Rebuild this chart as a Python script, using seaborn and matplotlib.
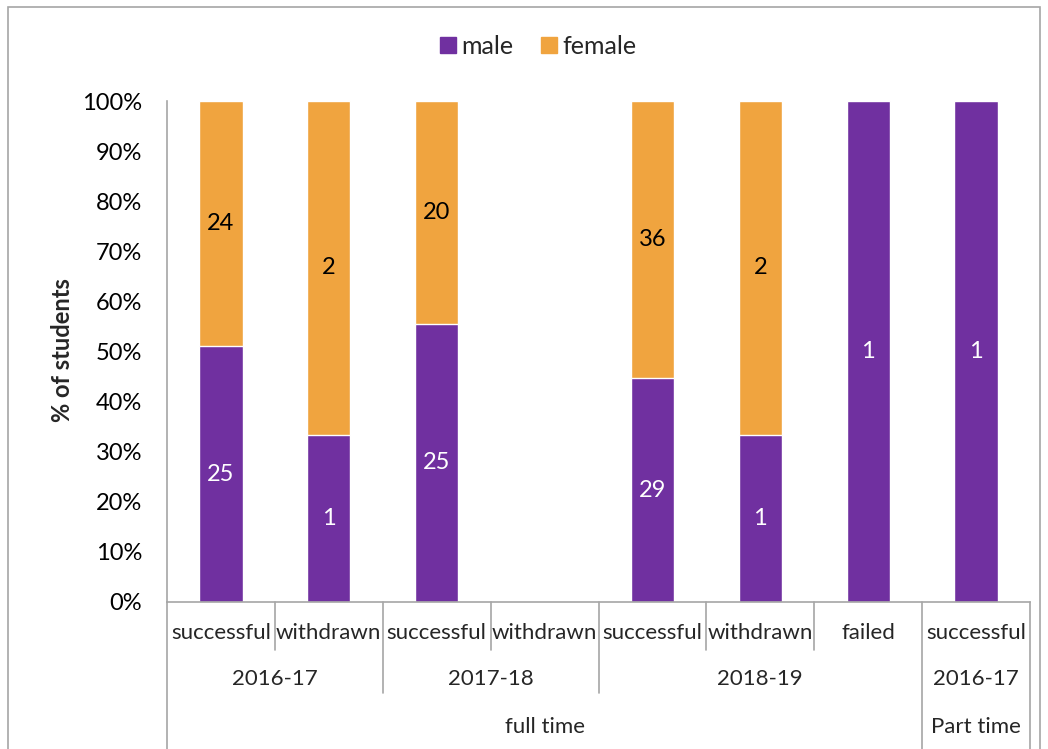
import numpy as np
import pandas as pd
import matplotlib
matplotlib.use("Agg")
import matplotlib.pyplot as plt
import seaborn as sns
from matplotlib.patches import Rectangle
from matplotlib.lines import Line2D
import matplotlib.transforms as mtransforms

# ---- data ----
outcomes = ["successful", "withdrawn", "successful", "withdrawn",
            "successful", "withdrawn", "failed", "successful"]
years = ["2016-17", "2017-18", "2018-19", "2016-17"]
year_spans = [(0, 1), (2, 3), (4, 6), (7, 7)]
modes = ["full time", "Part time"]
mode_spans = [(0, 6), (7, 7)]
male = [25, 1, 25, 0, 29, 1, 1, 1]
female = [24, 2, 20, 0, 36, 2, 0, 0]

slots = [f"s{i}" for i in range(len(outcomes))]
total = np.array(male) + np.array(female)
male_pct = np.where(total > 0, np.array(male) / np.where(total > 0, total, 1) * 100, 0)
total_pct = np.where(total > 0, 100.0, 0.0)
df = pd.DataFrame({"slot": slots, "male_pct": male_pct, "total_pct": total_pct})

PURPLE = "#7030A0"
ORANGE = "#F0A43F"
GRID = "#A6A6A6"

sns.set_theme(style="white")
plt.rcParams["font.family"] = ["Lato", "DejaVu Sans"]
FS_TICK = 17
FS_CAT = 16
FS_DATA = 17

fig = plt.figure(figsize=(10.48, 7.49), dpi=100)
W, H = 1048, 749
L, R, T, B = 167, 1030, 101, 602
ax = fig.add_axes([L / W, 1 - B / H, (R - L) / W, (B - T) / H])

sns.barplot(data=df, x="slot", y="total_pct", order=slots, color=ORANGE,
            width=0.4, saturation=1, errorbar=None, ax=ax)
sns.barplot(data=df, x="slot", y="male_pct", order=slots, color=PURPLE,
            width=0.4, saturation=1, errorbar=None, ax=ax)

ax.set_xlim(-0.5, len(slots) - 0.5)
ax.set_ylim(0, 100)
ax.set_yticks(np.arange(0, 101, 10))
ax.set_yticklabels([f"{v}%" for v in range(0, 101, 10)], fontsize=FS_TICK, color="#000000")
ax.tick_params(axis="y", length=0, pad=18)
ax.set_xticks([])
ax.set_xlabel("")
ax.set_ylabel("")
for s in ["top", "right"]:
    ax.spines[s].set_visible(False)
for s in ["left", "bottom"]:
    ax.spines[s].set_color(GRID)
    ax.spines[s].set_linewidth(1.2)

# data labels
for i in range(len(slots)):
    if total[i] == 0:
        continue
    mp = male_pct[i]
    if male[i] > 0:
        ax.text(i, mp / 2, str(male[i]), ha="center", va="center",
                color="white", fontsize=FS_DATA)
    if female[i] > 0:
        ax.text(i, mp + (100 - mp) / 2, str(female[i]), ha="center", va="center",
                color="black", fontsize=FS_DATA)

# multi-level category axis
trans = mtransforms.blended_transform_factory(ax.transData, ax.transAxes)
ph = B - T
y1 = -(650 - B) / ph
y2 = -(693 - B) / ph
y3 = -(749 - B) / ph
yl1 = -(633 - B) / ph
yl2 = -(679 - B) / ph
yl3 = -(727 - B) / ph

def vline(x, ybot):
    ax.add_line(Line2D([x, x], [0, ybot], transform=trans, color=GRID,
                       lw=1.2, clip_on=False))

mode_bounds = set()
for a, b in mode_spans:
    mode_bounds.add(a - 0.5)
    mode_bounds.add(b + 0.5)
year_bounds = set()
for a, b in year_spans:
    year_bounds.add(a - 0.5)
    year_bounds.add(b + 0.5)
for k in range(len(slots) + 1):
    x = k - 0.5
    if x in mode_bounds:
        vline(x, y3 - 0.02)
    elif x in year_bounds:
        vline(x, y2)
    else:
        vline(x, y1)

for i, lab in enumerate(outcomes):
    ax.text(i, yl1, lab, transform=trans, ha="center", va="center", fontsize=FS_CAT)
for (a, b), lab in zip(year_spans, years):
    ax.text((a + b) / 2, yl2, lab, transform=trans, ha="center", va="center", fontsize=FS_CAT)
for (a, b), lab in zip(mode_spans, modes):
    ax.text((a + b) / 2, yl3, lab, transform=trans, ha="center", va="center", fontsize=FS_CAT)

# y label
fig.text(62 / W, 1 - 350 / H, "% of students", rotation=90, ha="center",
         va="center", fontsize=17, fontweight="bold")

# legend
handles = [Line2D([], [], marker="s", linestyle="none", markersize=11,
                  markerfacecolor=PURPLE, markeredgecolor=PURPLE, label="male"),
           Line2D([], [], marker="s", linestyle="none", markersize=11,
                  markerfacecolor=ORANGE, markeredgecolor=ORANGE, label="female")]
fig.legend(handles=handles, loc="center", bbox_to_anchor=(537 / W, 1 - 46 / H),
           ncol=2, frameon=False, fontsize=18, handletextpad=0.15,
           columnspacing=1.0, handlelength=0.8)

# outer border
fig.add_artist(Rectangle((8 / W, -0.01), (1040 - 8) / W, 1.01 - 7 / H,
                         transform=fig.transFigure, fill=False,
                         edgecolor=GRID, lw=1.2))

fig.savefig("out.png", dpi=100)
